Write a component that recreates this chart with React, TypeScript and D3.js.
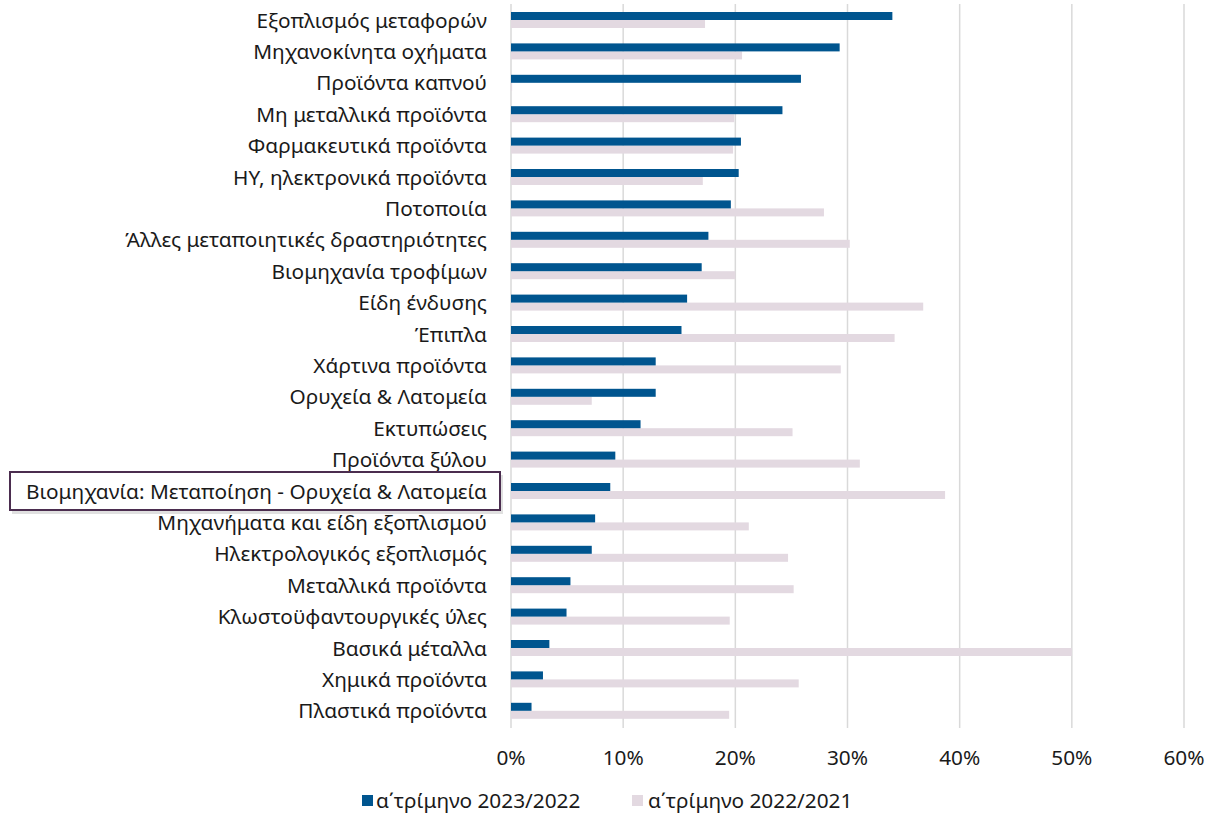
import React from "react";
import * as d3 from "d3";

const categories = [
  "Εξοπλισμός μεταφορών",
  "Μηχανοκίνητα οχήματα",
  "Προϊόντα καπνού",
  "Μη μεταλλικά προϊόντα",
  "Φαρμακευτικά προϊόντα",
  "ΗΥ, ηλεκτρονικά προϊόντα",
  "Ποτοποιία",
  "Άλλες μεταποιητικές δραστηριότητες",
  "Βιομηχανία τροφίμων",
  "Είδη ένδυσης",
  "Έπιπλα",
  "Χάρτινα προϊόντα",
  "Ορυχεία & Λατομεία",
  "Εκτυπώσεις",
  "Προϊόντα ξύλου",
  "Βιομηχανία: Μεταποίηση - Ορυχεία & Λατομεία",
  "Μηχανήματα και είδη εξοπλισμού",
  "Ηλεκτρολογικός εξοπλισμός",
  "Μεταλλικά προϊόντα",
  "Κλωστοϋφαντουργικές ύλες",
  "Βασικά μέταλλα",
  "Χημικά προϊόντα",
  "Πλαστικά προϊόντα",
];

const series2023 = [
  0.340, 0.293, 0.2585, 0.242, 0.205, 0.203, 0.196, 0.176, 0.170, 0.157, 0.152,
  0.129, 0.129, 0.1155, 0.093, 0.0885, 0.075, 0.072, 0.053, 0.0495, 0.0342,
  0.0285, 0.0183,
];

const series2022 = [
  0.173, 0.206, 0.001, 0.199, 0.198, 0.171, 0.279, 0.302, 0.200, 0.3675, 0.342,
  0.294, 0.072, 0.251, 0.311, 0.387, 0.212, 0.247, 0.252, 0.195, 0.500,
  0.2565, 0.1945,
];

const xTicks = [0, 0.1, 0.2, 0.3, 0.4, 0.5, 0.6];
const legendLabels = ["α΄τρίμηνο 2023/2022", "α΄τρίμηνο 2022/2021"];
const highlighted = "Βιομηχανία: Μεταποίηση - Ορυχεία & Λατομεία";

const DARK = "#00558f";
const LIGHT = "#e3d9e1";
const GRID = "#d9d9d9";
const FONT = "'Noto Sans', 'Open Sans', sans-serif";
const FS = 20.8;

export default function App() {
  const x = d3.scaleLinear().domain([0, 0.6]).range([511, 1184]);
  const y = d3
    .scaleBand<string>()
    .domain(categories)
    .range([4.3, 726.5])
    .paddingInner(0)
    .paddingOuter(0);
  const bh = 8;
  const fmt = d3.format(".0%");

  return (
    <svg
      width={1207}
      height={814}
      style={{ position: "absolute", left: 0, top: 0, background: "#fff" }}
      fontFamily={FONT}
    >
      {xTicks.map((t) => (
        <line
          key={"g" + t}
          x1={x(t)}
          x2={x(t)}
          y1={4}
          y2={728}
          stroke={GRID}
          strokeWidth={1.5}
        />
      ))}
      {categories.map((c, i) => {
        const cy = (y(c) as number) + y.bandwidth() / 2;
        return (
          <g key={c}>
            <rect
              x={x(0)}
              y={cy}
              width={x(series2022[i]) - x(0)}
              height={bh}
              fill={LIGHT}
            />
            <rect
              x={x(0)}
              y={cy - bh}
              width={x(series2023[i]) - x(0)}
              height={bh}
              fill={DARK}
            />
          </g>
        );
      })}
      {categories.map((c) => {
        const cy = (y(c) as number) + y.bandwidth() / 2;
        const hl = c === highlighted;
        return (
          <g key={"l" + c}>
            {hl && (
              <>
                <rect
                  x={12}
                  y={cy - 16}
                  width={491}
                  height={39}
                  fill="#000"
                  opacity={0.12}
                />
                <rect
                  x={10}
                  y={cy - 19}
                  width={490}
                  height={38}
                  fill="#fff"
                  stroke="#4b2d4f"
                  strokeWidth={2}
                />
              </>
            )}
            <text
              x={487}
              y={cy - 0.5}
              textAnchor="end"
              dominantBaseline="central"
              fontSize={FS}
              fill="#1a1a1a"
            >
              {c}
            </text>
          </g>
        );
      })}
      {xTicks.map((t) => (
        <text
          key={"t" + t}
          x={x(t)}
          y={757}
          textAnchor="middle"
          dominantBaseline="central"
          fontSize={FS}
          fill="#1a1a1a"
        >
          {fmt(t)}
        </text>
      ))}
      <g>
        <rect x={362} y={795} width={11} height={11} fill={DARK} />
        <text x={376} y={800} dominantBaseline="central" fontSize={FS} fill="#1a1a1a">
          {legendLabels[0]}
        </text>
        <rect x={632} y={795} width={11} height={11} fill={LIGHT} />
        <text x={648} y={800} dominantBaseline="central" fontSize={FS} fill="#1a1a1a">
          {legendLabels[1]}
        </text>
      </g>
    </svg>
  );
}
